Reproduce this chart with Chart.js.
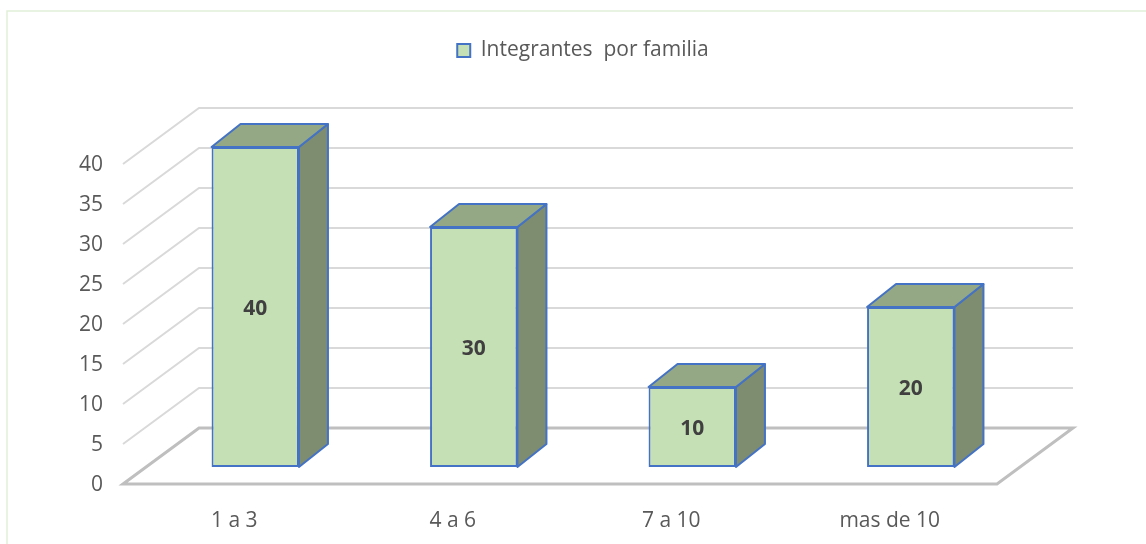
<!DOCTYPE html>
<html>
<head>
<meta charset="utf-8">
<style>
  html, body { margin: 0; padding: 0; background: #fff; }
  #wrap { width: 1146px; height: 544px; }
</style>
<script src="https://cdn.jsdelivr.net/npm/chart.js@4.4.1/dist/chart.umd.min.js"></script>
</head>
<body>
<div id="wrap"><canvas id="chart" width="1146" height="544"></canvas></div>
<script>
// Chart data
const categories = ['1 a 3', '4 a 6', '7 a 10', 'mas de 10'];
const values = [40, 30, 10, 20];
const yTicks = [0, 5, 10, 15, 20, 25, 30, 35, 40];
const seriesName = 'Integrantes  por familia';

// fake 3D: offsets from the bar front plane
const FLOOR_FRONT = { dx: -23, dy: 17 };
const WALL_BACK = { dx: 53, dy: -39 };
const BAR_DEPTH = { dx: 29, dy: -23 };

const FONT = 'Open Sans';
const TEXT_COLOR = '#595959';

function poly(ctx, pts, fill) {
  ctx.beginPath();
  ctx.moveTo(pts[0][0], pts[0][1]);
  for (let i = 1; i < pts.length; i++) ctx.lineTo(pts[i][0], pts[i][1]);
  ctx.closePath();
  ctx.fillStyle = fill;
  ctx.fill();
  ctx.stroke();
}

const depthPlugin = {
  id: 'depth',
  beforeDraw(chart) {
    const ctx = chart.ctx;
    ctx.save();
    ctx.strokeStyle = '#e2efd9';
    ctx.lineWidth = 1.5;
    ctx.beginPath();
    ctx.moveTo(7, chart.height);
    ctx.lineTo(7, 11);
    ctx.lineTo(chart.width, 11);
    ctx.stroke();
    ctx.restore();
  },
  beforeDatasetsDraw(chart) {
    const { ctx, chartArea: area, scales: { y } } = chart;
    ctx.save();
    // walls first, floor last so it sits on top
    [...yTicks].reverse().forEach(v => {
      const py = y.getPixelForValue(v);
      const floor = v === 0;
      ctx.strokeStyle = floor ? '#bfbfbf' : '#d9d9d9';
      ctx.lineWidth = floor ? 3 : 2;
      ctx.beginPath();
      ctx.moveTo(area.left + FLOOR_FRONT.dx, py + FLOOR_FRONT.dy);
      ctx.lineTo(area.left + WALL_BACK.dx, py + WALL_BACK.dy);
      ctx.lineTo(area.right + WALL_BACK.dx, py + WALL_BACK.dy);
      if (floor) {
        ctx.lineTo(area.right + FLOOR_FRONT.dx, py + FLOOR_FRONT.dy);
        ctx.closePath();
      }
      ctx.stroke();
    });
    ctx.restore();
  },
  afterDatasetsDraw(chart) {
    const ctx = chart.ctx;
    const meta = chart.getDatasetMeta(0);
    const { dx, dy } = BAR_DEPTH;
    ctx.save();
    ctx.strokeStyle = '#4472c4';
    ctx.lineWidth = 2;
    ctx.lineJoin = 'round';
    meta.data.forEach((bar, i) => {
      const { x, y: top, base, width } = bar.getProps(['x', 'y', 'base', 'width'], true);
      const l = x - width / 2, r = x + width / 2;
      poly(ctx, [[r, top], [r + dx, top + dy], [r + dx, base + dy], [r, base]], '#7e8c70');
      poly(ctx, [[l, top], [r, top], [r + dx, top + dy], [l + dx, top + dy]], '#94a886');

      ctx.fillStyle = '#404040';
      ctx.font = `bold 21px "${FONT}"`;
      ctx.textAlign = 'center';
      ctx.textBaseline = 'middle';
      ctx.fillText(String(values[i]), x, (top + base) / 2 + 2);
    });
    ctx.restore();
  }
};

new Chart(document.getElementById('chart'), {
  type: 'bar',
  data: {
    labels: categories,
    datasets: [{
      label: seriesName,
      data: values,
      backgroundColor: '#c5e0b4',
      borderColor: '#4472c4',
      borderWidth: 2,
      borderSkipped: false,
      barPercentage: 0.4,
      categoryPercentage: 1
    }]
  },
  options: {
    responsive: false,
    animation: false,
    layout: { padding: { top: 30, left: 0, right: 126, bottom: 0 } },
    plugins: {
      legend: {
        position: 'top',
        fullSize: false,
        labels: {
          boxWidth: 13,
          boxHeight: 13,
          padding: 10,
          color: TEXT_COLOR,
          font: { family: FONT, size: 21 }
        }
      },
      // empty title used as a spacer between legend and plot
      title: {
        display: true,
        text: ' ',
        weight: 500,
        fullSize: false,
        padding: { top: 64, bottom: 0 },
        font: { size: 10 }
      },
      tooltip: { enabled: false }
    },
    scales: {
      x: {
        grid: { display: false, drawTicks: false },
        border: { display: false },
        ticks: { labelOffset: -21, padding: 41, color: TEXT_COLOR, font: { family: FONT, size: 21 } },
        afterFit: s => { s.height = 77; }
      },
      y: {
        min: 0,
        max: 40,
        grid: { display: false, drawTicks: false },
        border: { display: false },
        afterBuildTicks: s => { s.ticks = yTicks.map(v => ({ value: v })); },
        ticks: { padding: 43, labelOffset: 18, color: TEXT_COLOR, font: { family: FONT, size: 21 } },
        afterFit: s => { s.width = 146; }
      }
    }
  },
  plugins: [depthPlugin]
});
</script>
</body>
</html>
